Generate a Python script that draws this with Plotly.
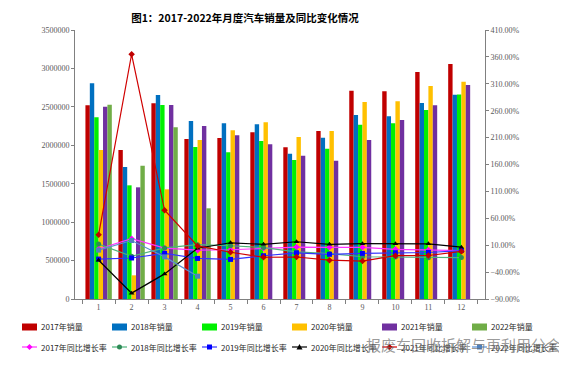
import plotly.graph_objects as go

months = [str(i) for i in range(1, 13)]

sales_2017 = [2520000, 1940000, 2546000, 2082000, 2095000, 2169000, 1974000, 2186000, 2711000, 2702000, 2954000, 3058000]
sales_2018 = [2806000, 1717000, 2654000, 2316000, 2286000, 2273000, 1891000, 2099000, 2394000, 2377000, 2550000, 2659000]
sales_2019 = [2364000, 1479000, 2525000, 1978000, 1908000, 2056000, 1809000, 1956000, 2268000, 2286000, 2459000, 2660000]
sales_2020 = [1939000, 308000, 1427000, 2069000, 2195000, 2299000, 2108000, 2186000, 2563000, 2572000, 2771000, 2828000]
sales_2021 = [2502000, 1453000, 2525000, 2251000, 2130000, 2013000, 1865000, 1800000, 2069000, 2329000, 2520000, 2784000]
sales_2022 = [2528000, 1735000, 2234000, 1180000, None, None, None, None, None, None, None, None]

rate_2017 = [3.0, 22.0, 4.5, 0.7, 1.5, 4.5, 6.5, 6.0, 6.0, 2.4, 1.0, 0.0]
rate_2018 = [12.0, -10.5, 5.0, 11.0, 9.0, 5.5, -2.5, -5.5, -11.5, -12.0, -13.5, -13.0]
rate_2019 = [-15.8, -13.8, -5.2, -14.6, -16.4, -9.6, -4.3, -6.9, -5.2, -4.0, -3.6, 0.1]
rate_2020 = [-18.0, -79.1, -43.3, 4.4, 14.5, 11.6, 16.4, 11.6, 12.8, 12.5, 12.6, 6.4]
rate_2021 = [29.5, 364.9, 74.9, 8.6, -3.1, -12.4, -11.9, -17.8, -19.6, -9.4, -9.1, -1.6]
rate_2022 = [0.9, 18.7, -11.7, -47.6, None, None, None, None, None, None, None, None]

bar_series = [
    ("2017年销量", sales_2017, "#C00000"),
    ("2018年销量", sales_2018, "#0070C0"),
    ("2019年销量", sales_2019, "#00F000"),
    ("2020年销量", sales_2020, "#FFC000"),
    ("2021年销量", sales_2021, "#7030A0"),
    ("2022年销量", sales_2022, "#70AD47"),
]
line_series = [
    ("2017年同比增长率", rate_2017, "#FF33FF", "#FF00FF", "diamond"),
    ("2018年同比增长率", rate_2018, "#4DB37A", "#2E8B57", "circle"),
    ("2019年同比增长率", rate_2019, "#3333FF", "#0000FF", "square"),
    ("2020年同比增长率", rate_2020, "#000000", "#000000", "triangle-up"),
    ("2021年同比增长率", rate_2021, "#D00000", "#C00000", "diamond"),
    ("2022年同比增长率", rate_2022, "#5B8FD0", "#4F81BD", "square"),
]

fig = go.Figure()
for name, vals, color in bar_series:
    fig.add_trace(go.Bar(
        x=months, y=vals, name=name, marker=dict(color=color, line=dict(width=0)),
        showlegend=False,
    ))
for name, vals, lc, mc, sym in line_series:
    fig.add_trace(go.Scatter(
        x=months, y=vals, name=name, yaxis="y2", mode="lines+markers",
        line=dict(color=lc, width=1.2),
        marker=dict(color=mc, symbol=sym, size=5),
        showlegend=False,
    ))

tickfont = dict(family="Liberation Serif, DejaVu Serif, serif", size=8, color="#595959")
legfont = dict(family="Noto Sans CJK SC, Noto Sans, sans-serif", size=8, color="#262626")

# page body adds an 8px offset; figure is sized so that it ends at the window edge
OFF = 8
WIN_W, WIN_H = 567, 367
W, H = WIN_W - OFF, WIN_H - OFF
# plot area in window pixels (from reference)
PL, PR, PT, PB = 75, 485, 30, 299
ml, mr, mt, mb = PL - OFF, WIN_W - PR, PT - OFF, WIN_H - PB
pw = PR - PL
ph = PB - PT


def X(p):  # window pixel -> paper x
    return (p - PL) / pw


def Y(p):  # window pixel -> paper y
    return (PB - p) / ph


shapes = []
annotations = []

# Legend row 1: sales (coloured patches)
for i, (name, vals, color) in enumerate(bar_series):
    x0 = 22 + 90 * i
    cy = 327
    shapes.append(dict(type="rect", xref="paper", yref="paper",
                       x0=X(x0), x1=X(x0 + 15), y0=Y(cy - 3.5), y1=Y(cy + 3.5),
                       fillcolor=color, line=dict(width=0)))
    annotations.append(dict(text=name, xref="paper", yref="paper", x=X(x0 + 17), y=Y(cy),
                            xanchor="left", yanchor="middle", showarrow=False, font=legfont))


def marker_shape(sym, cx, cy, color):
    r = 2.5
    if sym == "circle":
        return dict(type="circle", xref="paper", yref="paper", x0=X(cx - r), x1=X(cx + r),
                    y0=Y(cy + r), y1=Y(cy - r), fillcolor=color, line=dict(width=0))
    if sym == "square":
        return dict(type="rect", xref="paper", yref="paper", x0=X(cx - r), x1=X(cx + r),
                    y0=Y(cy + r), y1=Y(cy - r), fillcolor=color, line=dict(width=0))
    if sym == "diamond":
        r = 3
        pts = [(cx, cy - r), (cx + r, cy), (cx, cy + r), (cx - r, cy)]
    else:  # triangle-up
        r = 3
        pts = [(cx, cy - r), (cx + r, cy + r * 0.8), (cx - r, cy + r * 0.8)]
    path = "M" + " L".join(f"{X(px):.5f},{Y(py):.5f}" for px, py in pts) + " Z"
    return dict(type="path", xref="paper", yref="paper", path=path,
                fillcolor=color, line=dict(width=0))


# Legend row 2: growth rates (line + marker)
for i, (name, vals, lc, mc, sym) in enumerate(line_series):
    x0 = 22 + 90 * i
    cy = 347
    shapes.append(dict(type="line", xref="paper", yref="paper",
                       x0=X(x0), x1=X(x0 + 15), y0=Y(cy), y1=Y(cy),
                       line=dict(color=lc, width=1.2)))
    shapes.append(marker_shape(sym, x0 + 7.5, cy, mc))
    annotations.append(dict(text=name, xref="paper", yref="paper", x=X(x0 + 17), y=Y(cy),
                            xanchor="left", yanchor="middle", showarrow=False, font=legfont))

# watermark
annotations.append(dict(text="报废车回收拆解与再利用分会", xref="paper", yref="paper",
                        x=X(463), y=Y(345), xanchor="center", yanchor="middle",
                        showarrow=False,
                        font=dict(family="Noto Sans CJK SC, sans-serif", size=15,
                                  color="rgba(110,110,110,0.7)")))

fig.update_layout(
    width=W, height=H,
    margin=dict(l=ml, r=mr, t=mt, b=mb),
    paper_bgcolor="white", plot_bgcolor="white",
    barmode="group", bargap=0.2, bargroupgap=0,
    showlegend=False,
    title=dict(text="<b>图1：2017-2022年月度汽车销量及同比变化情况</b>",
               font=dict(family="Noto Sans CJK SC, sans-serif", size=10.5, color="#000000"),
               x=(245 - OFF) / W, xanchor="center", y=1 - (18 - OFF) / H, yanchor="middle"),
    xaxis=dict(type="category", showline=True, linecolor="#808080", linewidth=1,
               ticks="outside", tickcolor="#808080", ticklen=4, tickson="boundaries",
               tickfont=tickfont, showgrid=False, zeroline=False),
    yaxis=dict(range=[0, 3500000], dtick=500000, tickformat="d", showline=True,
               linecolor="#808080", linewidth=1, ticks="outside", tickcolor="#808080",
               ticklen=3, tickfont=tickfont, showgrid=False, zeroline=False),
    yaxis2=dict(range=[-90, 410], dtick=50, tick0=10, tickformat=".2f", ticksuffix="%",
                overlaying="y", side="right", showline=True, linecolor="#808080",
                linewidth=1, ticks="outside", tickcolor="#808080", ticklen=3,
                tickfont=tickfont, showgrid=False, zeroline=False),
    shapes=shapes,
    annotations=annotations,
)

fig.write_html("out.html")
